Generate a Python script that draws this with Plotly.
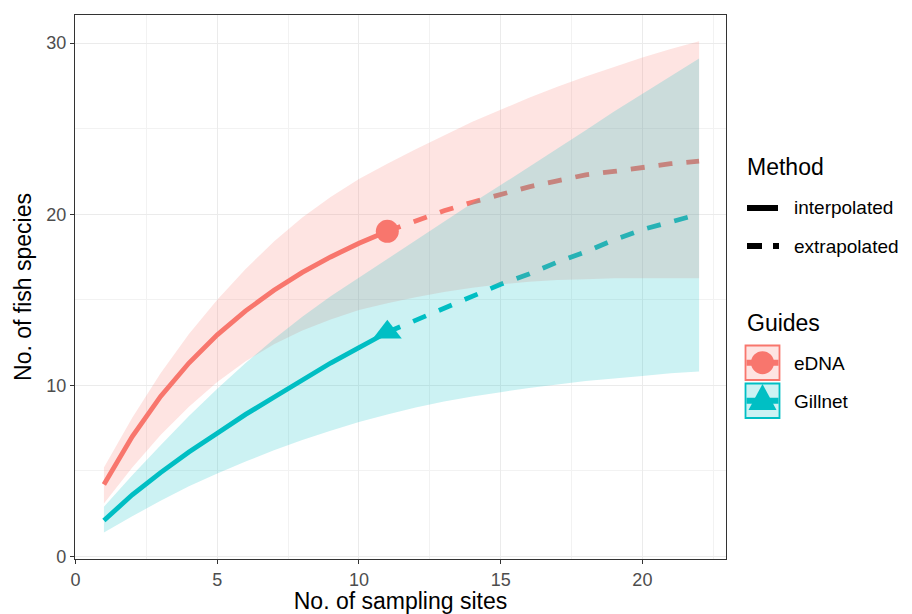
import plotly.graph_objects as go

# ---------------- data ----------------
sites_interp = list(range(1, 12))
sites_extrap = list(range(11, 23))
sites_all = list(range(1, 23))

edna_interp = [4.2, 7.0, 9.35, 11.3, 12.95, 14.35, 15.55, 16.6, 17.5, 18.3, 19.0]
edna_extrap = [19.0, 19.6, 20.2, 20.7, 21.15, 21.6, 21.95, 22.3, 22.5, 22.75, 22.95, 23.1]
gill_interp = [2.1, 3.6, 4.9, 6.1, 7.2, 8.3, 9.3, 10.3, 11.3, 12.2, 13.1]
gill_extrap = [13.1, 13.8, 14.5, 15.2, 15.9, 16.5, 17.2, 17.8, 18.5, 19.1, 19.55, 20.0]

edna_lo = [3.1, 5.2, 7.1, 8.75, 10.2, 11.4, 12.4, 13.2, 13.85, 14.4, 14.8, 15.15, 15.45, 15.7,
           15.9, 16.05, 16.15, 16.2, 16.25, 16.25, 16.25, 16.25]
edna_hi = [5.2, 8.1, 10.7, 13.0, 15.0, 16.8, 18.4, 19.8, 21.0, 22.05, 22.95, 23.8, 24.6, 25.4,
           26.1, 26.8, 27.45, 28.05, 28.6, 29.15, 29.65, 30.1]
gill_lo = [1.4, 2.35, 3.25, 4.1, 4.85, 5.55, 6.2, 6.8, 7.35, 7.85, 8.3, 8.7, 9.05, 9.35, 9.6,
           9.85, 10.05, 10.25, 10.4, 10.55, 10.7, 10.8]
gill_hi = [2.9, 4.75, 6.5, 8.2, 9.8, 11.3, 12.7, 14.0, 15.2, 16.3, 17.4, 18.5, 19.6, 20.65,
           21.7, 22.75, 23.8, 24.9, 26.0, 27.05, 28.1, 29.1]

x_ticks = [0, 5, 10, 15, 20]
y_ticks = [0, 10, 20, 30]
guides = ["eDNA", "Gillnet"]
methods = ["interpolated", "extrapolated"]

# ---------------- styles ----------------
RED = "#F8766D"
TEAL = "#00BFC4"
RED_FILL = "rgba(248,118,109,0.2)"
TEAL_FILL = "rgba(0,191,196,0.2)"
LW = 4.8
DASH = "14px,14px"
FONT = "Liberation Sans, Arial, sans-serif"

W, H = 912, 614
ML, MR, MT, MB = 75, 186, 15, 55
PW = W - ML - MR
PH = H - MT - MB


def PX(px):
    return (px - ML) / PW


def PY(py):
    return (H - MB - py) / PH


fig = go.Figure()

# lines (drawn under ribbons like ggplot/iNEXT)
fig.add_trace(go.Scatter(x=sites_interp, y=edna_interp, mode="lines", line=dict(color=RED, width=LW), showlegend=False, hoverinfo="skip"))
fig.add_trace(go.Scatter(x=sites_extrap, y=edna_extrap, mode="lines", line=dict(color=RED, width=LW, dash=DASH), showlegend=False, hoverinfo="skip"))
fig.add_trace(go.Scatter(x=sites_interp, y=gill_interp, mode="lines", line=dict(color=TEAL, width=LW), showlegend=False, hoverinfo="skip"))
fig.add_trace(go.Scatter(x=sites_extrap, y=gill_extrap, mode="lines", line=dict(color=TEAL, width=LW, dash=DASH), showlegend=False, hoverinfo="skip"))

# ribbons
fig.add_trace(go.Scatter(x=sites_all + sites_all[::-1], y=edna_hi + edna_lo[::-1], mode="lines", fill="toself",
                         fillcolor=RED_FILL, line=dict(width=0, color="rgba(0,0,0,0)"), showlegend=False, hoverinfo="skip"))
fig.add_trace(go.Scatter(x=sites_all + sites_all[::-1], y=gill_hi + gill_lo[::-1], mode="lines", fill="toself",
                         fillcolor=TEAL_FILL, line=dict(width=0, color="rgba(0,0,0,0)"), showlegend=False, hoverinfo="skip"))

# observed points
fig.add_trace(go.Scatter(x=[sites_interp[-1]], y=[edna_interp[-1]], mode="markers",
                         marker=dict(symbol="circle", size=23, color=RED), showlegend=False, hoverinfo="skip"))
fig.add_trace(go.Scatter(x=[sites_interp[-1]], y=[gill_interp[-1]], mode="markers",
                         marker=dict(symbol="triangle-up", size=25, color=TEAL), showlegend=False, hoverinfo="skip"))

# ---------------- manual ggplot-style legend ----------------
shapes = []
annotations = []
# Method
annotations.append(dict(x=PX(745), y=PY(167), xref="paper", yref="paper", text="Method", showarrow=False,
                        xanchor="left", yanchor="middle", font=dict(family=FONT, size=23, color="black")))
shapes.append(dict(type="line", xref="paper", yref="paper", x0=PX(747), x1=PX(778), y0=PY(208), y1=PY(208),
                   line=dict(color="black", width=6)))
shapes.append(dict(type="line", xref="paper", yref="paper", x0=PX(747), x1=PX(779), y0=PY(246), y1=PY(246),
                   line=dict(color="black", width=6, dash="15px,11px")))
for txt, py in zip(methods, [208, 246]):
    annotations.append(dict(x=PX(792), y=PY(py), xref="paper", yref="paper", text=txt, showarrow=False,
                            xanchor="left", yanchor="middle", font=dict(family=FONT, size=19, color="black")))
# Guides
annotations.append(dict(x=PX(745), y=PY(323), xref="paper", yref="paper", text="Guides", showarrow=False,
                        xanchor="left", yanchor="middle", font=dict(family=FONT, size=23, color="black")))
for (txt, col, fcol, top) in zip(guides, [RED, TEAL], [RED_FILL, TEAL_FILL], [345.5, 383.5]):
    bot = top + 34.5
    cy = (top + bot) / 2
    shapes.append(dict(type="rect", xref="paper", yref="paper", x0=PX(745.5), x1=PX(779.5), y0=PY(bot), y1=PY(top),
                       fillcolor=fcol, line=dict(color=col, width=1.8)))
    shapes.append(dict(type="line", xref="paper", yref="paper", x0=PX(746.5), x1=PX(778.5), y0=PY(cy), y1=PY(cy),
                       line=dict(color=col, width=6)))
    annotations.append(dict(x=PX(792), y=PY(cy + 1), xref="paper", yref="paper", text=txt, showarrow=False,
                            xanchor="left", yanchor="middle", font=dict(family=FONT, size=19, color="black")))
# legend key symbols
r = 11.5
shapes.append(dict(type="circle", xref="paper", yref="paper", x0=PX(762.5 - r), x1=PX(762.5 + r),
                   y0=PY(362.7 + r), y1=PY(362.7 - r), fillcolor=RED, line=dict(width=0)))
tri = "M {:.5f},{:.5f} L {:.5f},{:.5f} L {:.5f},{:.5f} Z".format(PX(748.5), PY(410), PX(762.5), PY(384), PX(776.5), PY(410))
shapes.append(dict(type="path", xref="paper", yref="paper", path=tri, fillcolor=TEAL, line=dict(width=0)))

fig.update_layout(
    width=W, height=H,
    margin=dict(l=ML, r=MR, t=MT, b=MB),
    paper_bgcolor="white", plot_bgcolor="white",
    font=dict(family=FONT),
    showlegend=False,
    shapes=shapes,
    annotations=annotations,
)

axis_common = dict(
    showgrid=True, gridcolor="#EBEBEB", gridwidth=1.1,
    zeroline=False, showline=True, mirror=True, linecolor="#333333", linewidth=1.1,
    ticks="outside", ticklen=4, tickwidth=1.1, tickcolor="#333333",
    tickfont=dict(family=FONT, size=18, color="#4D4D4D"),
)

fig.update_xaxes(
    range=[-0.02, 22.95], tickvals=x_ticks, ticktext=[str(v) for v in x_ticks],
    minor=dict(tickvals=[2.5, 7.5, 12.5, 17.5, 22.5], showgrid=True, gridcolor="#F2F2F2", gridwidth=0.6, ticklen=0),
    title=dict(text="No. of sampling sites", font=dict(family=FONT, size=23, color="black"), standoff=2),
    automargin=False,
    **axis_common,
)
fig.update_yaxes(
    range=[-0.15, 31.64], tickvals=y_ticks, ticktext=[str(v) for v in y_ticks],
    minor=dict(tickvals=[5, 15, 25], showgrid=True, gridcolor="#F2F2F2", gridwidth=0.6, ticklen=0),
    title=dict(text="No. of fish species", font=dict(family=FONT, size=23, color="black"), standoff=8),
    automargin=False,
    **axis_common,
)

fig.write_html("out.html", config={"displayModeBar": False},
               post_script="document.body.style.margin='0';document.body.style.overflow='hidden';")
